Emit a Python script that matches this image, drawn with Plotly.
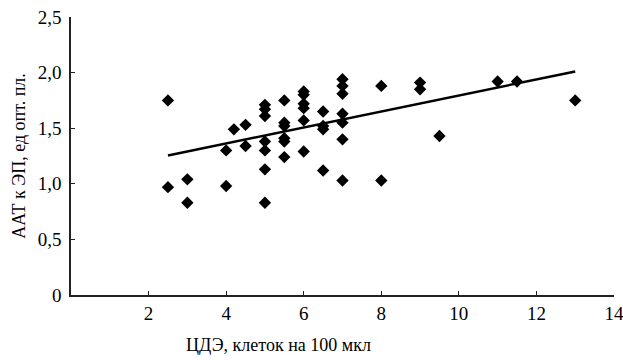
import plotly.graph_objects as go

# Scatter data (ЦДЭ, клеток на 100 мкл  vs  ААТ к ЭП, ед опт. пл.)
cde = [2.5, 2.5, 3, 3, 4, 4, 4.2, 4.5, 4.5,
       5, 5, 5, 5, 5, 5, 5,
       5.5, 5.5, 5.5, 5.5, 5.5, 5.5,
       6, 6, 6, 6, 6, 6,
       6.5, 6.5, 6.5, 6.5,
       7, 7, 7, 7, 7, 7, 7,
       8, 8, 9, 9, 9.5, 11, 11.5, 13]
aat = [1.75, 0.97, 1.04, 0.83, 1.30, 0.98, 1.49, 1.53, 1.34,
       1.71, 1.67, 1.61, 1.38, 1.30, 1.13, 0.83,
       1.75, 1.55, 1.52, 1.41, 1.38, 1.24,
       1.83, 1.80, 1.72, 1.68, 1.57, 1.29,
       1.65, 1.52, 1.49, 1.12,
       1.94, 1.88, 1.81, 1.63, 1.55, 1.40, 1.03,
       1.88, 1.03, 1.91, 1.85, 1.43, 1.92, 1.92, 1.75]

# Trend line endpoints
trend_x = [2.5, 13]
trend_y = [1.255, 2.01]

x_tickvals = [2, 4, 6, 8, 10, 12, 14]
x_ticktext = ["2", "4", "6", "8", "10", "12", "14"]
y_tickvals = [0, 0.5, 1.0, 1.5, 2.0, 2.5]
y_ticktext = ["0", "0,5", "1,0", "1,5", "2,0", "2,5"]

x_title = "ЦДЭ, клеток на 100 мкл"
y_title = "ААТ к ЭП, ед опт. пл."

FONT = "Liberation Serif"

fig = go.Figure()
fig.add_trace(go.Scatter(
    x=cde, y=aat, mode="markers",
    marker=dict(symbol="diamond", size=9.5, color="black", line=dict(width=0)),
    showlegend=False, hoverinfo="skip"))
fig.add_trace(go.Scatter(
    x=trend_x, y=trend_y, mode="lines",
    line=dict(color="black", width=2.5),
    showlegend=False, hoverinfo="skip"))

fig.update_layout(
    width=623, height=360,
    margin=dict(l=71, r=9, t=17, b=65, autoexpand=False),
    paper_bgcolor="white", plot_bgcolor="white",
    font=dict(family=FONT, size=19, color="black"),
    xaxis=dict(range=[0, 14], tickvals=x_tickvals, ticktext=x_ticktext,
               automargin=False, ticklabeloverflow="allow",
               showgrid=False, zeroline=False, showline=True,
               linecolor="#222", linewidth=1.5,
               ticks="inside", ticklen=4, tickcolor="#222",
               ticklabelstandoff=0),
    yaxis=dict(range=[0, 2.5], tickvals=y_tickvals, ticktext=y_ticktext,
               automargin=False, ticklabeloverflow="allow",
               showgrid=False, zeroline=False, showline=True,
               linecolor="#222", linewidth=1.5,
               ticks="inside", ticklen=4, tickcolor="#222",
               ticklabelstandoff=4),
    annotations=[
        dict(text=x_title, xref="paper", yref="paper", x=0.382, y=-0.179,
             xanchor="center", yanchor="middle", showarrow=False,
             font=dict(family=FONT, size=18, color="black")),
        dict(text=y_title, xref="paper", yref="paper", x=-0.096, y=0.5,
             xanchor="center", yanchor="middle", showarrow=False, textangle=-90,
             font=dict(family=FONT, size=18, color="black")),
    ],
)

fig.write_html("out.html",
               config={"displayModeBar": False},
               post_script="document.body.style.margin='0';document.body.style.overflow='hidden';")
